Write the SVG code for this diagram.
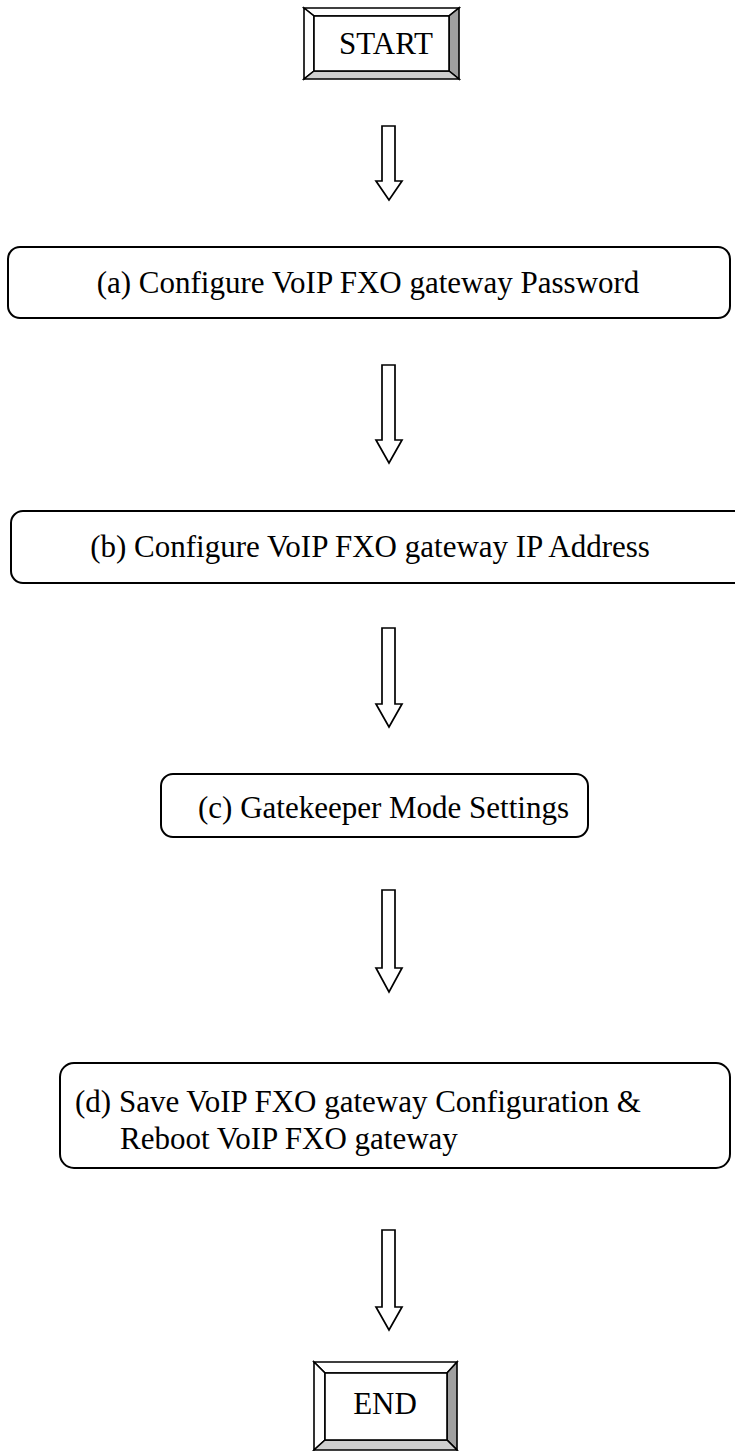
<svg xmlns="http://www.w3.org/2000/svg" width="735" height="1451" viewBox="0 0 735 1451">
<style>
.box{fill:#fff;stroke:#000;stroke-width:2}
.lbl{font-family:"Liberation Serif","Times New Roman",serif;font-size:31px;fill:#000}
.arr{fill:#fff;stroke:#000;stroke-width:1.7;stroke-linejoin:miter}
.bev{stroke:#000;stroke-width:1.6;stroke-linejoin:miter}
.dg{fill:#a0a0a0}
.lg{fill:#cfcfcf}
.wt{fill:#fff}
</style>
<rect width="735" height="1451" fill="#fff"/>
<g id="start">
<polygon class="bev wt" points="304,8 459,8 449,16 314,16"/>
<polygon class="bev wt" points="304,8 314,16 314,71 304,79"/>
<polygon class="bev dg" points="459,8 459,79 449,71 449,16"/>
<polygon class="bev lg" points="304,79 459,79 449,71 314,71"/>
<rect class="bev wt" x="314" y="16" width="135" height="55"/>
<text class="lbl" x="386" y="54" text-anchor="middle">START</text>
</g>
<g id="a">
<rect class="box" x="8" y="247" width="722" height="71" rx="12"/>
<text class="lbl" x="368" y="293" text-anchor="middle">(a) Configure VoIP FXO gateway Password</text>
</g>
<g id="b">
<path class="box" d="M740,511 H23 A12,12 0 0 0 11,523 V571 A12,12 0 0 0 23,583 H740"/>
<text class="lbl" x="370" y="557" text-anchor="middle">(b) Configure VoIP FXO gateway IP Address</text>
</g>
<g id="c">
<rect class="box" x="161" y="774" width="427" height="63" rx="12"/>
<text class="lbl" x="198" y="818">(c) Gatekeeper Mode Settings</text>
</g>
<g id="d">
<rect class="box" x="60" y="1063" width="670" height="105" rx="14"/>
<text class="lbl" x="75" y="1112">(d) Save VoIP FXO gateway Configuration &amp;</text>
<text class="lbl" x="120" y="1149">Reboot VoIP FXO gateway</text>
</g>
<g id="end">
<polygon class="bev wt" points="314,1362 457,1362 447,1373 325,1373"/>
<polygon class="bev wt" points="314,1362 325,1373 325,1440 314,1450"/>
<polygon class="bev dg" points="457,1362 457,1450 447,1440 447,1373"/>
<polygon class="bev lg" points="314,1450 457,1450 447,1440 325,1440"/>
<rect class="bev wt" x="325" y="1373" width="122" height="67"/>
<text class="lbl" x="385" y="1414" text-anchor="middle">END</text>
</g>
<g id="connectors">
<polygon class="arr" points="382,126 395,126 395,181 402,181 389,200 376,181 382,181"/>
<polygon class="arr" points="382,365 395,365 395,440 402,440 389,463 376,440 382,440"/>
<polygon class="arr" points="382,628 395,628 395,704 402,704 389,727 376,704 382,704"/>
<polygon class="arr" points="382,890 395,890 395,968 402,968 389,992 376,968 382,968"/>
<polygon class="arr" points="382,1230 395,1230 395,1307 402,1307 389,1330 376,1307 382,1307"/>
</g>
</svg>
